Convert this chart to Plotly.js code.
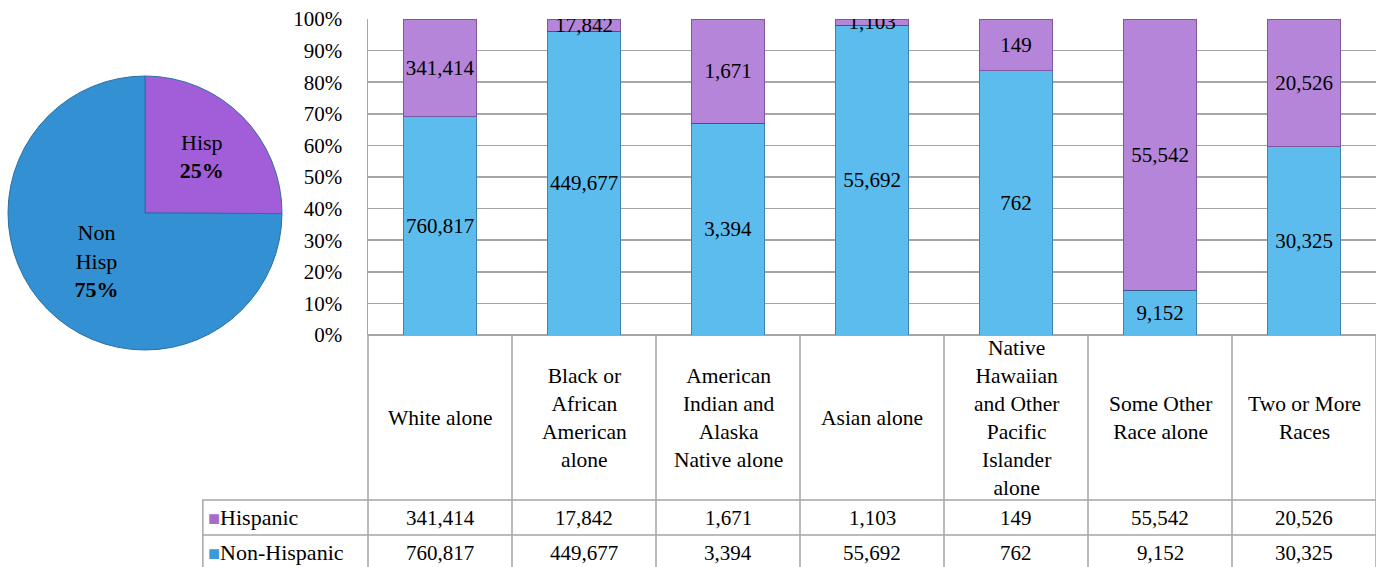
<!DOCTYPE html>
<html>
<head>
<meta charset="utf-8">
<script src="https://cdn.plot.ly/plotly-3.0.1.min.js"></script>
<style>html,body{margin:0;padding:0;background:#fff;}#chart{width:1376px;height:567px;}</style>
</head>
<body>
<div id="chart"></div>
<script>
// ---- data ----
const categories = ["White alone", "Black or African American alone", "American Indian and Alaska Native alone", "Asian alone", "Native Hawaiian and Other Pacific Islander alone", "Some Other Race alone", "Two or More Races"];
const headerLabels = ["White alone", "Black or<br>African<br>American<br>alone", "American<br>Indian and<br>Alaska<br>Native alone", "Asian alone", "Native<br>Hawaiian<br>and Other<br>Pacific<br>Islander<br>alone", "Some Other<br>Race alone", "Two or More<br>Races"];
const hispanic = [341414, 17842, 1671, 1103, 149, 55542, 20526];
const nonHispanic = [760817, 449677, 3394, 55692, 762, 9152, 30325];
const seriesNames = ["Hispanic", "Non-Hispanic"];
const pieLabels = ["Hisp", "Non<br>Hisp"];
const yTickVals = [0, 10, 20, 30, 40, 50, 60, 70, 80, 90, 100];

// ---- styling ----
const FONT = "Liberation Serif, serif";
const FS = 21;
const HFS = 21.5;
const BLUE = "#5cbcee";
const PURPLE = "#b485d8";
const GRID = "#a6a6a6";
const W = 1376, H = 567;
const px = v => v / W;
const py = v => 1 - v / H;

const fmt = v => v.toLocaleString("en-US");
const sum = a => a.reduce((s, v) => s + v, 0);

const xs = categories.map((c, i) => i);

const traces = [
  {
    type: "bar", name: seriesNames[1], x: xs, y: nonHispanic,
    text: nonHispanic.map(fmt), textposition: "inside", insidetextanchor: "middle", textangle: 0,
    textfont: {family: FONT, size: FS, color: "#000"},
    marker: {color: BLUE, line: {color: "rgba(30,60,100,0.45)", width: 1}},
    width: 0.51, hoverinfo: "skip", xaxis: "x", yaxis: "y"
  },
  {
    type: "bar", name: seriesNames[0], x: xs, y: hispanic,
    text: hispanic.map(fmt), textposition: "inside", insidetextanchor: "middle", textangle: 0,
    textfont: {family: FONT, size: FS, color: "#000"},
    marker: {color: PURPLE, line: {color: "rgba(60,30,90,0.45)", width: 1}},
    width: 0.51, hoverinfo: "skip", xaxis: "x", yaxis: "y"
  },
  {
    type: "pie", values: [sum(hispanic), sum(nonHispanic)], text: pieLabels,
    sort: false, direction: "clockwise", rotation: 0,
    texttemplate: "%{text}<br><b>%{percent:.0%}</b>", textposition: "inside",
    insidetextorientation: "horizontal",
    textfont: {family: FONT, size: 22, color: "#000"},
    marker: {colors: ["#a25ed8", "#3390d2"], line: {color: "#2a6fa5", width: 1}},
    domain: {x: [px(8), px(282)], y: [py(350), py(76)]},
    hoverinfo: "skip", showlegend: false
  }
];

// table geometry in axis units: columns are 1 category wide, rows 1 unit tall
const firstColW = 166 / 144;
const x2min = -0.5 - firstColW;
const headerH = 165 / 35;
const y2top = -0.5 - headerH;
const y2bot = 1 + 14.5 / 35;

const shapes = [];
const lineStyle = {color: GRID, width: 1.5};
for (let k = 0; k <= categories.length; k++) {
  shapes.push({type: "line", xref: "x2", yref: "y2", x0: -0.5 + k, x1: -0.5 + k, y0: y2top, y1: y2bot, line: lineStyle});
}
shapes.push({type: "line", xref: "x2", yref: "y2", x0: x2min + 0.006, x1: x2min + 0.006, y0: -0.5, y1: y2bot, line: lineStyle});
[-0.5, 0.5].forEach(yv => shapes.push({type: "line", xref: "x2", yref: "y2", x0: x2min, x1: categories.length - 0.5, y0: yv, y1: yv, line: lineStyle}));

const annotations = [];
headerLabels.forEach((t, i) => annotations.push({
  xref: "x2", yref: "y2", x: i, y: (y2top - 0.5) / 2, text: t, showarrow: false,
  font: {family: FONT, size: HFS, color: "#000"}, align: "center"
}));
[hispanic, nonHispanic].forEach((arr, r) => arr.forEach((v, i) => annotations.push({
  xref: "x2", yref: "y2", x: i, y: r, text: fmt(v), showarrow: false,
  font: {family: FONT, size: FS, color: "#000"}
})));
const legendColors = ["#a86cc8", "#3d9ad8"];
seriesNames.forEach((n, r) => annotations.push({
  xref: "x2", yref: "y2", x: x2min, xshift: 4, xanchor: "left", y: r,
  text: '<span style="color:' + legendColors[r] + ';font-size:20px">■</span>' + n, showarrow: false,
  font: {family: FONT, size: 22, color: "#000"}
}));

const layout = {
  width: W, height: H, margin: {l: 0, r: 0, t: 0, b: 0},
  paper_bgcolor: "#fff", plot_bgcolor: "#fff",
  showlegend: false, barmode: "stack", barnorm: "percent",
  uniformtext: {minsize: FS, mode: "show"},
  font: {family: FONT, size: FS, color: "#000"},
  xaxis: {domain: [px(368), 1], range: [-0.5, categories.length - 0.5], showticklabels: false,
          showgrid: false, zeroline: false, showline: false, ticks: "", fixedrange: true},
  yaxis: {domain: [py(335), py(19)], range: [0, 100], tickvals: yTickVals,
          ticktext: yTickVals.map(v => v + "%"), showgrid: true, gridcolor: GRID, gridwidth: 1.5,
          zeroline: true, zerolinecolor: GRID, zerolinewidth: 1.5,
          showline: true, linecolor: GRID, linewidth: 1.5, ticks: "", ticklabelstandoff: 20,
          tickfont: {family: FONT, size: FS, color: "#000"}, fixedrange: true},
  xaxis2: {domain: [px(202), 1], range: [x2min, categories.length - 0.5], anchor: "y2", visible: false, fixedrange: true},
  yaxis2: {domain: [0, py(335)], range: [y2bot, y2top], anchor: "x2", visible: false, fixedrange: true},
  shapes: shapes, annotations: annotations
};

Plotly.newPlot("chart", traces, layout, {displayModeBar: false, staticPlot: true});
</script>
</body>
</html>
